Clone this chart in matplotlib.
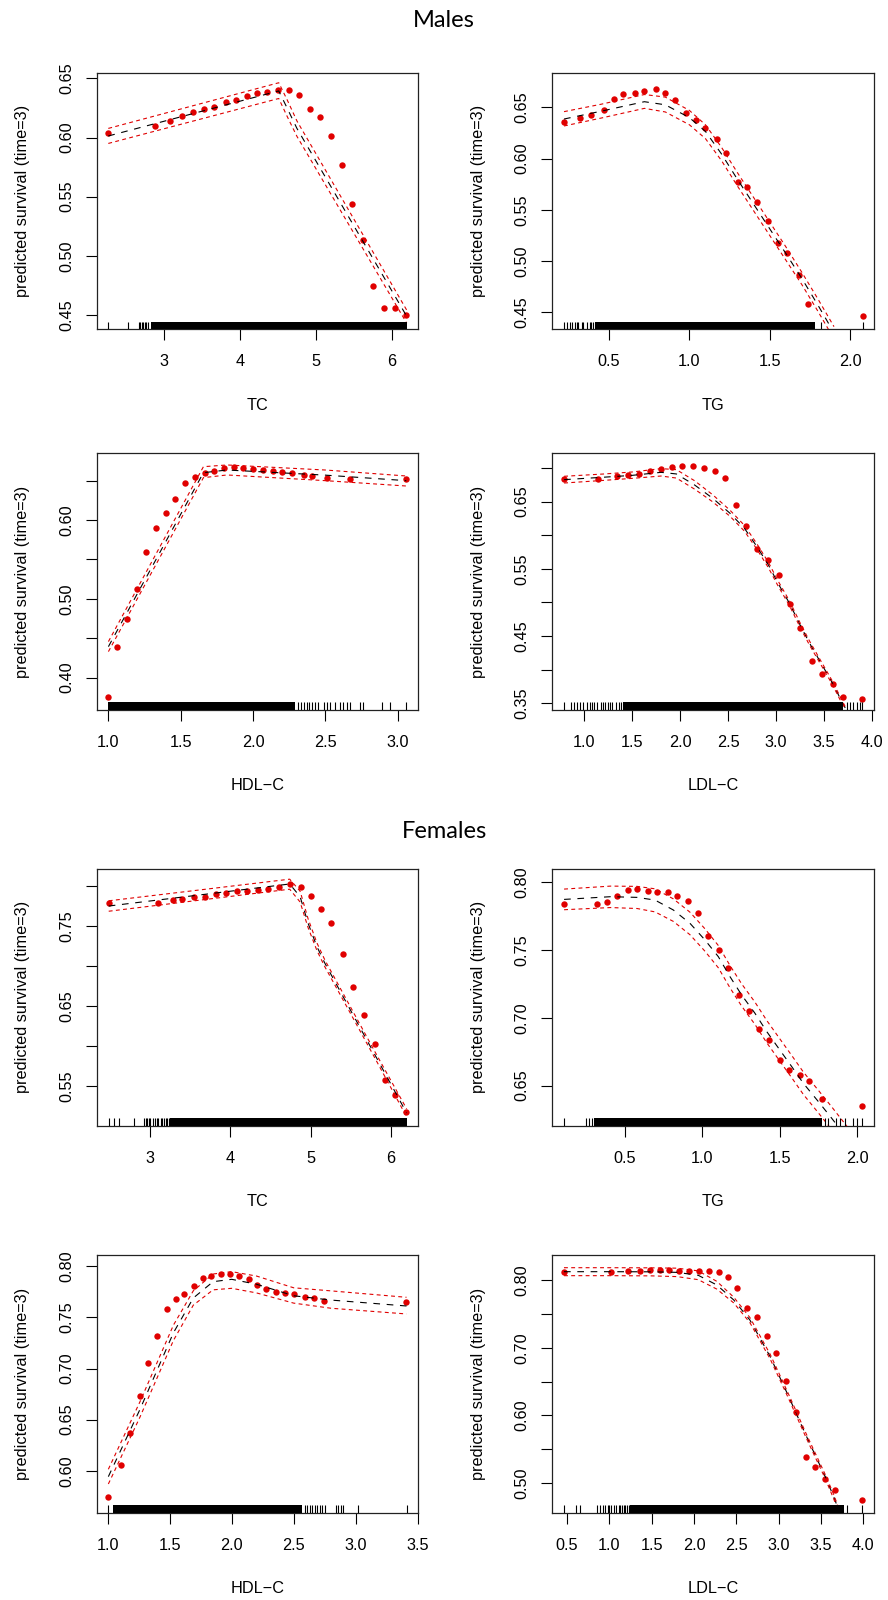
import matplotlib
matplotlib.use("Agg")
import matplotlib.pyplot as plt

plt.rcParams['font.family'] = ['Liberation Sans', 'DejaVu Sans']

# ---------------- Males ----------------
# TC
m_tc_pts_x = [2.26, 2.88, 3.07, 3.23, 3.38, 3.52, 3.66, 3.81, 3.95, 4.09, 4.22, 4.36, 4.50,
              4.64, 4.78, 4.92, 5.06, 5.20, 5.34, 5.48, 5.62, 5.76, 5.90, 6.04, 6.19]
m_tc_pts_y = [0.6035, 0.610, 0.614, 0.618, 0.622, 0.624, 0.626, 0.630, 0.632, 0.635, 0.6376, 0.6387, 0.640,
              0.6404, 0.636, 0.624, 0.6176, 0.601, 0.5765, 0.5435, 0.5134, 0.4745, 0.4562, 0.4562, 0.450]
m_tc_cx = [2.26, 4.51, 4.62, 4.75, 6.2]
m_tc_fit = [0.6013, 0.6394, 0.6250, 0.6077, 0.4488]
m_tc_upr = [0.6077, 0.6463, 0.6320, 0.6140, 0.4540]
m_tc_lwr = [0.5950, 0.6330, 0.6180, 0.6010, 0.4430]
m_tc_rug = [2.26, 2.52, 2.66, 2.68, 2.70, 2.72, 2.74, 2.76, 2.79]
m_tc_rug_dense = [(2.83, 6.20)]

# TG
m_tg_pts_x = [0.22, 0.32, 0.39, 0.47, 0.53, 0.59, 0.66, 0.72, 0.79, 0.85, 0.91, 0.98, 1.04,
              1.10, 1.17, 1.23, 1.30, 1.36, 1.42, 1.49, 1.55, 1.61, 1.68, 1.74, 2.08]
m_tg_pts_y = [0.6354, 0.6393, 0.6422, 0.6471, 0.6585, 0.6633, 0.6640, 0.6663, 0.6676, 0.6640, 0.6572, 0.6448, 0.6376,
              0.6298, 0.6194, 0.6051, 0.5775, 0.5726, 0.5576, 0.5394, 0.5173, 0.5076, 0.4864, 0.4578, 0.4468]
m_tg_cx = [0.22, 0.45, 0.72, 0.85, 1.0, 1.1, 1.2, 1.3, 1.4, 1.5, 1.6, 1.7, 1.8, 1.9]
m_tg_fit = [0.6386, 0.6462, 0.6555, 0.6525, 0.6400, 0.6265, 0.6045, 0.5795, 0.5555, 0.5315, 0.5075, 0.4830, 0.4570, 0.4300]
m_tg_upr = [0.6458, 0.6530, 0.6625, 0.6600, 0.6470, 0.6330, 0.6110, 0.5860, 0.5620, 0.5380, 0.5140, 0.4890, 0.4630, 0.4360]
m_tg_lwr = [0.6318, 0.6395, 0.6490, 0.6455, 0.6330, 0.6195, 0.5980, 0.5730, 0.5490, 0.5250, 0.5010, 0.4770, 0.4510, 0.4240]
m_tg_rug = [0.22, 0.24, 0.26, 0.27, 0.29, 0.30, 0.31, 0.33, 0.34, 0.36, 0.38, 0.39, 0.40, 1.82, 2.08]
m_tg_rug_dense = [(0.415, 1.78)]

# HDL-C
m_hdl_pts_x = [1.00, 1.06, 1.13, 1.20, 1.26, 1.33, 1.40, 1.46, 1.53, 1.60, 1.67, 1.73, 1.80,
               1.87, 1.93, 2.00, 2.07, 2.14, 2.20, 2.27, 2.35, 2.41, 2.51, 2.67, 3.06]
m_hdl_pts_y = [0.3756, 0.4386, 0.4745, 0.513, 0.560, 0.5904, 0.609, 0.6263, 0.647, 0.655, 0.6593, 0.6623, 0.6656,
               0.6669, 0.6665, 0.6644, 0.664, 0.6627, 0.6614, 0.6597, 0.6572, 0.6555, 0.653, 0.6521, 0.6525]
m_hdl_cx = [1.0, 1.657, 1.82, 2.5, 3.06]
m_hdl_fit = [0.4394, 0.6601, 0.6635, 0.6570, 0.6500]
m_hdl_upr = [0.4458, 0.6677, 0.6699, 0.6635, 0.6559]
m_hdl_lwr = [0.4331, 0.6538, 0.6572, 0.6500, 0.6432]
m_hdl_rug = [2.31, 2.33, 2.35, 2.37, 2.39, 2.41, 2.43, 2.45, 2.49, 2.51, 2.53, 2.57, 2.60, 2.62,
             2.65, 2.67, 2.74, 2.76, 2.89, 2.95, 3.06]
m_hdl_rug_dense = [(1.0, 2.29)]

# LDL-C
m_ldl_pts_x = [0.79, 1.14, 1.34, 1.46, 1.57, 1.69, 1.80, 1.91, 2.02, 2.13, 2.25, 2.36, 2.47,
               2.58, 2.69, 2.80, 2.92, 3.03, 3.14, 3.25, 3.37, 3.48, 3.59, 3.70, 3.90]
m_ldl_pts_y = [0.6836, 0.6841, 0.6881, 0.6896, 0.6916, 0.6955, 0.6985, 0.7015, 0.7025, 0.7025, 0.7005, 0.6955, 0.6856,
               0.6449, 0.6141, 0.5799, 0.5635, 0.5412, 0.498, 0.4613, 0.4127, 0.3933, 0.3794, 0.360, 0.3571]
m_ldl_cx = [0.79, 1.2, 1.5, 1.8, 1.96, 2.15, 2.34, 2.52, 2.67, 2.8, 2.92, 3.02, 3.14, 3.25, 3.35, 3.47, 3.58, 3.66, 3.72]
m_ldl_fit = [0.6826, 0.6862, 0.6890, 0.6935, 0.6911, 0.6747, 0.6548, 0.6325, 0.6102, 0.5829, 0.5556, 0.5283,
             0.4985, 0.4663, 0.4390, 0.4092, 0.3819, 0.3596, 0.3430]
m_ldl_upr = [0.6876, 0.6910, 0.6940, 0.6990, 0.6975, 0.6810, 0.6600, 0.6370, 0.6145, 0.5870, 0.5595, 0.5320,
             0.5020, 0.4695, 0.4420, 0.4120, 0.3845, 0.3620, 0.3450]
m_ldl_lwr = [0.6776, 0.6815, 0.6845, 0.6880, 0.6850, 0.6685, 0.6495, 0.6280, 0.6060, 0.5790, 0.5515, 0.5245,
             0.4950, 0.4630, 0.4360, 0.4065, 0.3795, 0.3570, 0.3410]
m_ldl_rug = [0.79, 0.86, 0.89, 0.92, 0.96, 0.99, 1.03, 1.06, 1.08, 1.10, 1.13, 1.17, 1.20, 1.22, 1.25,
             1.27, 1.29, 1.33, 1.36, 1.38, 3.74, 3.77, 3.80, 3.84, 3.87, 3.90]
m_ldl_rug_dense = [(1.40, 3.70)]

# ---------------- Females ----------------
# TC
f_tc_pts_x = [2.48, 3.10, 3.28, 3.40, 3.55, 3.68, 3.82, 3.94, 4.08, 4.21, 4.34, 4.47, 4.61,
              4.74, 4.88, 5.00, 5.13, 5.26, 5.40, 5.53, 5.67, 5.80, 5.93, 6.06, 6.19]
f_tc_pts_y = [0.7784, 0.7784, 0.7825, 0.7834, 0.7859, 0.7867, 0.7904, 0.7917, 0.7933, 0.7942, 0.7950, 0.7967, 0.7992,
              0.8029, 0.7983, 0.7871, 0.7709, 0.7538, 0.7147, 0.6739, 0.6385, 0.6023, 0.5574, 0.5391, 0.5179]
f_tc_cx = [2.48, 4.74, 4.87, 4.97, 5.08, 5.18, 5.45, 5.83, 6.2]
f_tc_fit = [0.7750, 0.8025, 0.7867, 0.7534, 0.7243, 0.7035, 0.6541, 0.5846, 0.5168]
f_tc_upr = [0.7815, 0.8085, 0.7935, 0.7590, 0.7290, 0.7075, 0.6580, 0.5885, 0.5220]
f_tc_lwr = [0.7685, 0.7960, 0.7800, 0.7480, 0.7195, 0.6990, 0.6500, 0.5805, 0.5120]
f_tc_rug = [2.48, 2.54, 2.61, 2.80, 2.92, 2.94, 2.96, 2.98, 3.00, 3.03, 3.06, 3.08, 3.10, 3.13,
            3.15, 3.17, 3.19, 3.21, 3.23]
f_tc_rug_dense = [(3.25, 6.20)]

# TG
f_tg_pts_x = [0.109, 0.32, 0.388, 0.448, 0.519, 0.58, 0.648, 0.71, 0.78, 0.84, 0.91, 0.971, 1.04,
              1.108, 1.168, 1.237, 1.30, 1.368, 1.428, 1.50, 1.56, 1.628, 1.69, 1.77, 2.03]
f_tg_pts_y = [0.784, 0.784, 0.7855, 0.790, 0.7939, 0.7948, 0.7934, 0.7924, 0.7926, 0.790, 0.7858, 0.7772, 0.7605,
              0.7497, 0.7367, 0.717, 0.7047, 0.6915, 0.6836, 0.6687, 0.6618, 0.6576, 0.6534, 0.6402, 0.6348]
f_tg_cx = [0.11, 0.41, 0.58, 0.696, 0.814, 0.921, 1.018, 1.104, 1.179, 1.254, 1.34, 1.416, 1.50, 1.577,
           1.652, 1.749, 1.835, 1.95]
f_tg_fit = [0.7872, 0.7892, 0.7887, 0.7867, 0.7794, 0.7696, 0.7573, 0.7450, 0.7303, 0.7168, 0.7033, 0.6898,
            0.6763, 0.6640, 0.6517, 0.6382, 0.6259, 0.6090]
f_tg_upr = [0.7948, 0.7970, 0.7968, 0.7950, 0.7876, 0.7778, 0.7655, 0.7532, 0.7385, 0.7250, 0.7115, 0.6980,
            0.6845, 0.6722, 0.6600, 0.6465, 0.6343, 0.6175]
f_tg_lwr = [0.7796, 0.7812, 0.7805, 0.7780, 0.7710, 0.7612, 0.7490, 0.7368, 0.7221, 0.7086, 0.6951, 0.6816,
            0.6681, 0.6558, 0.6435, 0.6299, 0.6175, 0.6005]
f_tg_rug = [0.11, 0.25, 0.27, 0.29, 1.79, 1.81, 1.86, 1.89, 1.92, 1.97, 2.00, 2.03]
f_tg_rug_dense = [(0.30, 1.77)]

# HDL-C
f_hdl_pts_x = [1.005, 1.108, 1.18, 1.258, 1.328, 1.398, 1.476, 1.548, 1.618, 1.699, 1.766, 1.836, 1.914,
               1.987, 2.056, 2.137, 2.207, 2.277, 2.358, 2.427, 2.50, 2.589, 2.667, 2.747, 3.409]
f_hdl_pts_y = [0.574, 0.6053, 0.6366, 0.6731, 0.7051, 0.7318, 0.7579, 0.7684, 0.7733, 0.7808, 0.7886, 0.7905, 0.7928,
               0.7928, 0.7909, 0.7876, 0.7817, 0.7781, 0.7749, 0.7739, 0.7726, 0.7697, 0.769, 0.7664, 0.7654]
f_hdl_cx = [1.005, 1.26, 1.53, 1.69, 1.85, 2.0, 2.2, 2.5, 2.8, 3.41]
f_hdl_fit = [0.5942, 0.6600, 0.7350, 0.7690, 0.7850, 0.7873, 0.7825, 0.7712, 0.7670, 0.7612]
f_hdl_upr = [0.6014, 0.6675, 0.7425, 0.7760, 0.7925, 0.7948, 0.7905, 0.7790, 0.7760, 0.7697]
f_hdl_lwr = [0.5870, 0.6525, 0.7275, 0.7620, 0.7770, 0.7785, 0.7740, 0.7640, 0.7590, 0.7534]
f_hdl_rug = [1.005, 2.59, 2.61, 2.63, 2.65, 2.67, 2.69, 2.71, 2.73, 2.75, 2.84, 2.86, 2.88, 2.90, 3.02, 3.41]
f_hdl_rug_dense = [(1.045, 2.57)]

# LDL-C
f_ldl_pts_x = [0.465, 1.016, 1.217, 1.366, 1.48, 1.598, 1.709, 1.827, 1.937, 2.059, 2.173, 2.291, 2.40,
               2.512, 2.63, 2.74, 2.858, 2.972, 3.09, 3.205, 3.323, 3.43, 3.55, 3.665, 3.984]
f_ldl_pts_y = [0.8128, 0.8118, 0.8138, 0.8138, 0.8153, 0.8148, 0.8158, 0.8138, 0.8138, 0.8138, 0.8143, 0.8123, 0.8054,
               0.7887, 0.7586, 0.7457, 0.7181, 0.692, 0.651, 0.6046, 0.5385, 0.5232, 0.5065, 0.4902, 0.4754]
f_ldl_cx = [0.465, 1.0, 1.5, 1.8, 2.05, 2.27, 2.47, 2.66, 2.9, 3.11, 3.33, 3.55, 3.65, 3.72]
f_ldl_fit = [0.8128, 0.8128, 0.8126, 0.8118, 0.8075, 0.7931, 0.7709, 0.7413, 0.6870, 0.6303, 0.5686, 0.5094,
             0.4798, 0.4560]
f_ldl_upr = [0.8187, 0.8187, 0.8185, 0.8180, 0.8140, 0.7985, 0.7750, 0.7450, 0.6905, 0.6335, 0.5715, 0.5125,
             0.4830, 0.4590]
f_ldl_lwr = [0.8069, 0.8069, 0.8066, 0.8055, 0.8010, 0.7870, 0.7665, 0.7375, 0.6835, 0.6270, 0.5655, 0.5065,
             0.4765, 0.4530]
f_ldl_rug = [0.47, 0.61, 0.66, 0.86, 0.89, 0.92, 0.95, 0.98, 1.00, 1.02, 1.05, 1.08, 1.11, 1.13, 1.15, 1.17,
             1.19, 1.21, 1.23, 3.81, 3.99]
f_ldl_rug_dense = [(1.25, 3.77)]

# ---------------- layout (pixels) ----------------
W, H = 888, 1600
COLS = [(96.7, 418.3), (552.3, 874.0)]
ROWS = [(72.7, 329.3), (453.3, 710.0), (869.0, 1125.7), (1255.0, 1512.7)]
RED = '#e00000'

panels = [
    # row, col, xlabel, data, xlim, ylim, xticks, yticks, labelled yticks, xfmt
    (0, 0, 'TC', (m_tc_pts_x, m_tc_pts_y, m_tc_cx, m_tc_fit, m_tc_upr, m_tc_lwr, m_tc_rug, m_tc_rug_dense),
     (2.107, 6.352), (0.4379, 0.6548), [3, 4, 5, 6], [0.45, 0.50, 0.55, 0.60, 0.65], None, '%d'),
    (0, 1, 'TG', (m_tg_pts_x, m_tg_pts_y, m_tg_cx, m_tg_fit, m_tg_upr, m_tg_lwr, m_tg_rug, m_tg_rug_dense),
     (0.147, 2.149), (0.4334, 0.6838), [0.5, 1.0, 1.5, 2.0], [0.45, 0.50, 0.55, 0.60, 0.65], None, '%.1f'),
    (1, 0, 'HDL\u2212C', (m_hdl_pts_x, m_hdl_pts_y, m_hdl_cx, m_hdl_fit, m_hdl_upr, m_hdl_lwr, m_hdl_rug, m_hdl_rug_dense),
     (0.919, 3.143), (0.359, 0.6847), [1.0, 1.5, 2.0, 2.5, 3.0], [0.40, 0.45, 0.50, 0.55, 0.60, 0.65],
     [0.40, 0.50, 0.60], '%.1f'),
    (1, 1, 'LDL\u2212C', (m_ldl_pts_x, m_ldl_pts_y, m_ldl_cx, m_ldl_fit, m_ldl_upr, m_ldl_lwr, m_ldl_rug, m_ldl_rug_dense),
     (0.667, 4.02), (0.340, 0.7218), [1.0, 1.5, 2.0, 2.5, 3.0, 3.5, 4.0],
     [0.35, 0.40, 0.45, 0.50, 0.55, 0.60, 0.65, 0.70], [0.35, 0.45, 0.55, 0.65], '%.1f'),
    (2, 0, 'TC', (f_tc_pts_x, f_tc_pts_y, f_tc_cx, f_tc_fit, f_tc_upr, f_tc_lwr, f_tc_rug, f_tc_rug_dense),
     (2.33, 6.346), (0.5009, 0.8212), [3, 4, 5, 6], [0.55, 0.60, 0.65, 0.70, 0.75, 0.80],
     [0.55, 0.65, 0.75], '%d'),
    (2, 1, 'TG', (f_tg_pts_x, f_tg_pts_y, f_tg_cx, f_tg_fit, f_tg_upr, f_tg_lwr, f_tg_rug, f_tg_rug_dense),
     (0.034, 2.107), (0.6205, 0.8096), [0.5, 1.0, 1.5, 2.0], [0.65, 0.70, 0.75, 0.80], None, '%.1f'),
    (3, 0, 'HDL\u2212C', (f_hdl_pts_x, f_hdl_pts_y, f_hdl_cx, f_hdl_fit, f_hdl_upr, f_hdl_lwr, f_hdl_rug, f_hdl_rug_dense),
     (0.911, 3.505), (0.5589, 0.8111), [1.0, 1.5, 2.0, 2.5, 3.0, 3.5], [0.60, 0.65, 0.70, 0.75, 0.80], None, '%.1f'),
    (3, 1, 'LDL\u2212C', (f_ldl_pts_x, f_ldl_pts_y, f_ldl_cx, f_ldl_fit, f_ldl_upr, f_ldl_lwr, f_ldl_rug, f_ldl_rug_dense),
     (0.327, 4.126), (0.456, 0.8375), [0.5, 1.0, 1.5, 2.0, 2.5, 3.0, 3.5, 4.0],
     [0.50, 0.55, 0.60, 0.65, 0.70, 0.75, 0.80], [0.50, 0.60, 0.70, 0.80], '%.1f'),
]

fig = plt.figure(figsize=(W / 100, H / 100), dpi=100)
fig.patch.set_facecolor('white')

for row, col, xlab, data, xlim, ylim, xt, yt, ylab_on, xfmt in panels:
    px, py, cx, fit, upr, lwr, rug, rug_dense = data
    x0, x1 = COLS[col]
    top, bot = ROWS[row]
    ax = fig.add_axes([x0 / W, 1 - bot / H, (x1 - x0) / W, (bot - top) / H])

    ax.plot(px, py, 'o', color=RED, markersize=4.6, markeredgewidth=0, zorder=2)
    ax.plot(cx, fit, color='black', lw=0.8, dashes=(6, 6), zorder=3)
    ax.plot(cx, upr, color=RED, lw=0.8, dashes=(3.5, 3), zorder=3)
    ax.plot(cx, lwr, color=RED, lw=0.8, dashes=(3.5, 3), zorder=3)

    # rug along the bottom
    tr = ax.get_xaxis_transform()
    ax.vlines(rug, 0, 0.03, transform=tr, color='black', lw=0.8, zorder=4)
    for a, b in rug_dense:
        ax.axvspan(a, b, ymin=0, ymax=0.03, color='black', lw=0, zorder=4)

    ax.set_xlim(*xlim)
    ax.set_ylim(*ylim)
    ax.set_xticks(xt)
    ax.set_xticklabels([xfmt % v for v in xt])
    ax.set_yticks(yt)
    if ylab_on is None:
        ylab_on = yt
    ax.set_yticklabels(['%.2f' % v if any(abs(v - u) < 1e-9 for u in ylab_on) else '' for v in yt])
    ax.tick_params(axis='both', direction='out', length=7.9, width=0.8, labelsize=11.7, color='black')
    ax.tick_params(axis='x', pad=10)
    ax.tick_params(axis='y', pad=8.5, labelrotation=90)
    for lab in ax.get_yticklabels():
        lab.set_va('center')
    for s in ax.spines.values():
        s.set_linewidth(0.9)
        s.set_color('#222222')

    fig.text((x0 + x1) / 2 / W, 1 - (bot + 76) / H, xlab, ha='center', va='center', fontsize=11.7)
    fig.text((x0 - 74) / W, 1 - (top + bot) / 2 / H, 'predicted survival (time=3)',
             ha='center', va='center', rotation=90, fontsize=11.7)

fig.text(0.5, 1 - 20.5 / H, 'Males', ha='center', va='center', fontsize=17,
         family=['Lato', 'DejaVu Sans'])
fig.text(0.5, 1 - 831.5 / H, 'Females', ha='center', va='center', fontsize=17,
         family=['Lato', 'DejaVu Sans'])

fig.savefig('out.png', dpi=100, facecolor='white')
